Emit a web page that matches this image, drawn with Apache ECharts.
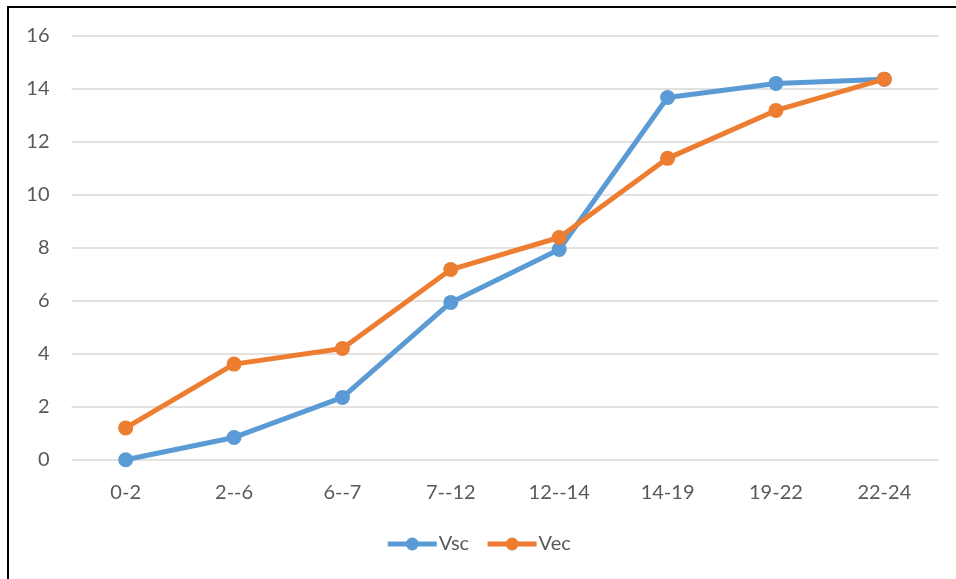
<!DOCTYPE html>
<html>
<head>
<meta charset="utf-8">
<style>
  html, body { margin: 0; padding: 0; background: #fff; }
  #chart { width: 956px; height: 579px; }
</style>
<script src="https://cdn.jsdelivr.net/npm/echarts@6/dist/echarts.min.js"></script>
</head>
<body>
<div id="chart"></div>
<script>
// Time bands on the x axis
const categories = ['0-2', '2--6', '6--7', '7--12', '12--14', '14-19', '19-22', '22-24'];
// Series values
const vsc = [0, 0.84, 2.35, 5.94, 7.94, 13.68, 14.21, 14.37];
const vec = [1.2, 3.61, 4.2, 7.18, 8.39, 11.38, 13.19, 14.37];
// Value axis range
const yMin = 0;
const yMax = 16;
const yStep = 2;

const textColor = '#595959';
const fontFamily = 'Lato, "Open Sans", sans-serif';
const fontSize = 20;

const chart = echarts.init(document.getElementById('chart'), null, { renderer: 'canvas' });

function lineSeries(name, data, color) {
  return {
    name: name,
    type: 'line',
    data: data,
    symbol: 'circle',
    symbolSize: 15,
    lineStyle: { color: color, width: 5 },
    itemStyle: { color: color },
    emphasis: { disabled: true },
    animation: false
  };
}

chart.setOption({
  backgroundColor: '#ffffff',
  animation: false,
  textStyle: { fontFamily: fontFamily },
  graphic: [{
    type: 'rect',
    silent: true,
    shape: { x: 8, y: 7, width: 1100, height: 800 },
    style: { fill: 'none', stroke: '#000000', lineWidth: 2 }
  }],
  grid: { left: 71.5, right: 17.5, top: 36, bottom: 119.3, containLabel: false },
  legend: {
    data: ['Vsc', 'Vec'],
    bottom: 20,
    left: 'center',
    itemWidth: 49,
    itemHeight: 16,
    itemGap: 16,
    lineStyle: { width: 5 },
    textStyle: { color: textColor, fontSize: fontSize, fontFamily: fontFamily, padding: [0, 0, 0, -3] }
  },
  xAxis: {
    type: 'category',
    data: categories,
    boundaryGap: true,
    axisLine: { show: false },
    axisTick: { show: false },
    axisLabel: { color: textColor, fontSize: fontSize, margin: 23, fontFamily: fontFamily },
    splitLine: { show: false }
  },
  yAxis: {
    type: 'value',
    min: yMin,
    max: yMax,
    interval: yStep,
    axisLine: { show: false },
    axisTick: { show: false },
    axisLabel: { color: textColor, fontSize: fontSize, margin: 22, fontFamily: fontFamily },
    splitLine: { lineStyle: { color: '#d9d9d9', width: 1.5 } }
  },
  series: [
    lineSeries('Vsc', vsc, '#5b9bd5'),
    lineSeries('Vec', vec, '#ed7d31')
  ]
});
</script>
</body>
</html>
